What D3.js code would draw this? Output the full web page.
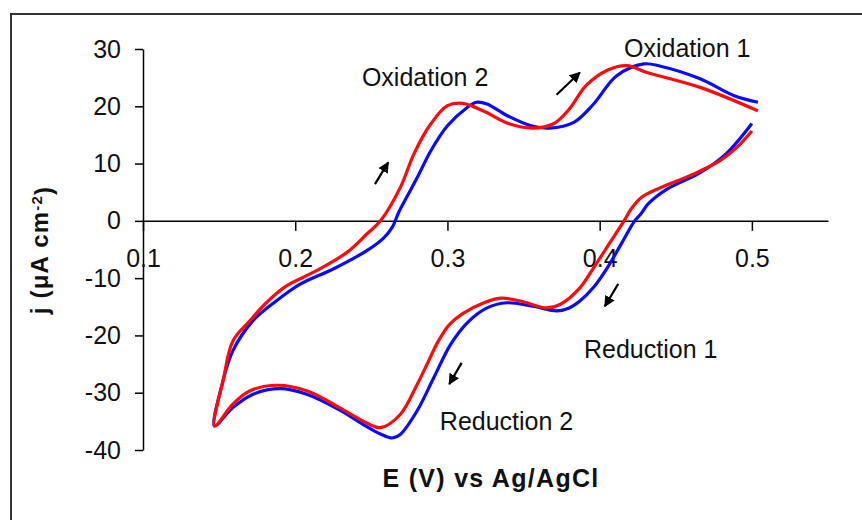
<!DOCTYPE html>
<html>
<head>
<meta charset="utf-8">
<script src="https://cdn.jsdelivr.net/npm/d3@7"></script>
<style>
  html, body { margin: 0; padding: 0; background: #fff; }
  svg { display: block; font-family: "Liberation Sans", Arial, sans-serif; }
</style>
</head>
<body>
<svg id="chart" width="862" height="520"></svg>
<script>
// ---- data (E in V vs Ag/AgCl, j in uA cm^-2) ----
const xTicks = [0.1, 0.2, 0.3, 0.4, 0.5];
const yTicks = [-40, -30, -20, -10, 0, 10, 20, 30];

// Blue scan: cathodic branch from 0.5 V down, then anodic branch back up
const blueScan = [
  [0.500, 17.0], [0.483, 11.7], [0.466, 8.4], [0.444, 5.5], [0.432, 3.0], [0.427, 1.2],
  [0.423, 0.0], [0.414, -4.1], [0.405, -8.2], [0.396, -11.6], [0.387, -14.0], [0.380, -15.2],
  [0.372, -15.7], [0.356, -14.9], [0.339, -14.3], [0.326, -15.2], [0.313, -17.8], [0.302, -21.6],
  [0.291, -27.4], [0.280, -33.2], [0.269, -37.3], [0.264, -37.9], [0.256, -37.2],
  [0.245, -35.6], [0.229, -33.0], [0.208, -30.3], [0.190, -29.3], [0.172, -30.3],
  [0.159, -32.6], [0.147, -35.8],
  [0.152, -28.5], [0.159, -22.7], [0.172, -17.5], [0.186, -14.3], [0.203, -11.1],
  [0.225, -8.4], [0.247, -5.2], [0.258, -3.0], [0.264, -1.0], [0.268, 1.5], [0.274, 4.5],
  [0.281, 8.0], [0.289, 12.2], [0.300, 16.6], [0.313, 19.8], [0.319, 20.7], [0.326, 20.4],
  [0.339, 18.4], [0.355, 16.6], [0.367, 16.2], [0.383, 17.2], [0.396, 20.4], [0.411, 25.3],
  [0.429, 27.4], [0.440, 27.0], [0.466, 24.8], [0.488, 21.9], [0.504, 20.7]
];

// Red scan: same order
const redScan = [
  [0.500, 15.7], [0.490, 12.8], [0.479, 10.5], [0.462, 8.2], [0.440, 5.8], [0.428, 4.2],
  [0.421, 2.2], [0.416, 0.0], [0.406, -4.1], [0.396, -8.2], [0.387, -11.7], [0.374, -14.6],
  [0.365, -15.2], [0.348, -14.0], [0.335, -13.5], [0.324, -14.3], [0.310, -16.2],
  [0.301, -18.2], [0.294, -21.0], [0.287, -24.8], [0.280, -28.6], [0.269, -33.8], [0.256, -36.1],
  [0.245, -35.0], [0.229, -32.6], [0.208, -29.7], [0.188, -28.7], [0.170, -29.7],
  [0.159, -32.0], [0.147, -35.8],
  [0.153, -27.4], [0.159, -21.0], [0.170, -17.5], [0.181, -14.3], [0.194, -11.4],
  [0.214, -8.7], [0.234, -5.5], [0.247, -2.3], [0.256, 0.0], [0.269, 5.8], [0.278, 11.7],
  [0.289, 16.9], [0.300, 20.1], [0.310, 20.5], [0.325, 19.0], [0.340, 17.0], [0.356, 16.2],
  [0.370, 17.0], [0.380, 19.5], [0.391, 23.6], [0.405, 26.3], [0.418, 27.1], [0.430, 26.0],
  [0.466, 23.3], [0.504, 19.2]
];

// annotation labels: [text, E, j]
const labelTexts = ["Oxidation 1", "Oxidation 2", "Reduction 1", "Reduction 2"];
const labelE = [0.416, 0.2438, 0.3897, 0.295];
const labelJ = [30.2, 25.05, -22.4, -35.0];

// scan-direction arrows: [E0, j0, E1, j1]
const arrowsData = [
  [0.3717, 22.0, 0.387, 25.9],
  [0.2524, 6.4, 0.2611, 10.2],
  [0.4122, -11.0, 0.4034, -14.9],
  [0.3093, -24.8, 0.3012, -28.5]
];

const xTitle = "E (V) vs Ag/AgCl";

// ---- drawing ----
const svg = d3.select("#chart");

// outer frame
svg.append("rect")
  .attr("x", 11).attr("y", 14).attr("width", 900).attr("height", 600)
  .attr("fill", "none").attr("stroke", "#333").attr("stroke-width", 2);

const x = d3.scaleLinear().domain([0.1, 0.55]).range([143, 828]);
const y = d3.scaleLinear().domain([-40, 30]).range([450, 49]);

// y axis
const gy = svg.append("g").attr("transform", `translate(${x(0.1)},0)`)
  .call(d3.axisLeft(y).tickValues(yTicks).tickSize(8).tickSizeOuter(0)
    .tickPadding(14).tickFormat(d => String(d)));
gy.select(".domain").attr("stroke", "#000").attr("stroke-width", 1.5);
gy.selectAll(".tick line").attr("stroke", "#000").attr("stroke-width", 1.5);
gy.selectAll(".tick text").attr("font-size", 25).attr("fill", "#111")
  .attr("font-family", "Liberation Sans, Arial, sans-serif");

// x axis at j = 0
const gx = svg.append("g").attr("transform", `translate(0,${y(0)})`)
  .call(d3.axisBottom(x).tickValues(xTicks).tickSize(10).tickSizeOuter(0)
    .tickFormat(d3.format(".1f")));
gx.select(".domain").attr("stroke", "#000").attr("stroke-width", 1.5);
gx.selectAll(".tick line").attr("stroke", "#000").attr("stroke-width", 1.5);
gx.selectAll(".tick text").attr("font-size", 25).attr("fill", "#111")
  .attr("y", 37).attr("dy", "0.35em")
  .attr("font-family", "Liberation Sans, Arial, sans-serif");

// curves
const line = d3.line().x(d => x(d[0])).y(d => y(d[1])).curve(d3.curveCatmullRom.alpha(0.5));
svg.append("path").datum(blueScan).attr("d", line)
  .attr("fill", "none").attr("stroke", "#0a0aff").attr("stroke-width", 3.2)
  .attr("stroke-linejoin", "round");
svg.append("path").datum(redScan).attr("d", line)
  .attr("fill", "none").attr("stroke", "#ff0a0a").attr("stroke-width", 3.2)
  .attr("stroke-linejoin", "round");

// arrows
svg.append("defs").append("marker")
  .attr("id", "ah").attr("viewBox", "0 0 10 10").attr("refX", 9).attr("refY", 5)
  .attr("markerWidth", 5).attr("markerHeight", 5).attr("orient", "auto")
  .attr("markerUnits", "strokeWidth")
  .append("path").attr("d", "M0,0 L10,5 L0,10 Z").attr("fill", "#000");
svg.selectAll("line.arrow").data(arrowsData).enter().append("line")
  .attr("class", "arrow")
  .attr("x1", d => x(d[0])).attr("y1", d => y(d[1]))
  .attr("x2", d => x(d[2])).attr("y2", d => y(d[3]))
  .attr("stroke", "#000").attr("stroke-width", 2.2).attr("marker-end", "url(#ah)");

// annotations
svg.selectAll("text.ann").data(labelTexts).enter().append("text")
  .attr("class", "ann")
  .attr("x", (d, i) => x(labelE[i])).attr("y", (d, i) => y(labelJ[i]))
  .attr("dy", "0.35em").attr("font-size", 25).attr("fill", "#111")
  .text(d => d);

// axis titles
svg.append("text")
  .attr("x", 491).attr("y", 478).attr("dy", "0.35em")
  .attr("text-anchor", "middle").attr("font-size", 25).attr("font-weight", "bold")
  .attr("letter-spacing", 1.3)
  .attr("fill", "#111").text(xTitle);

const yt = svg.append("text")
  .attr("transform", "translate(40,250) rotate(-90)")
  .attr("text-anchor", "middle").attr("dy", "0.35em")
  .attr("font-size", 24).attr("font-weight", "bold").attr("letter-spacing", 1.2)
  .attr("fill", "#111");
yt.append("tspan").text("j (μA cm");
yt.append("tspan").attr("dy", "-0.45em").attr("font-size", 15).text("-2");
yt.append("tspan").attr("dy", "0.45em").text(")");
</script>
</body>
</html>
